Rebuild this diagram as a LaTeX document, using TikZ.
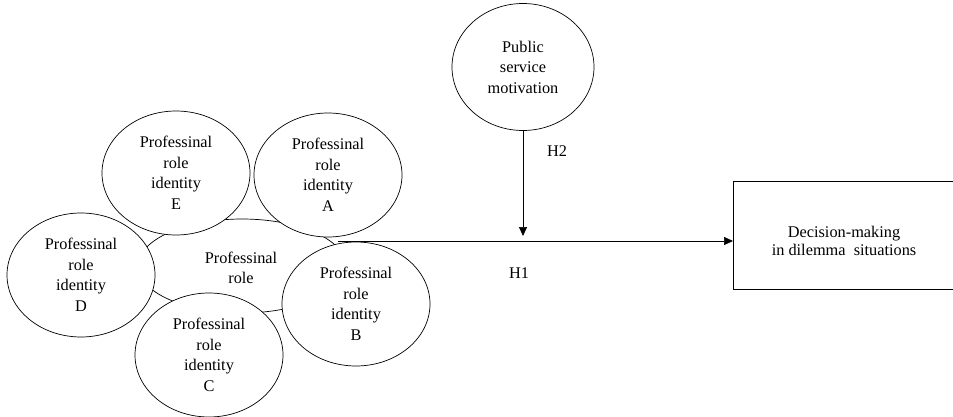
\documentclass[tikz,border=0pt]{standalone}
\usepackage{fontspec}
\setmainfont{Liberation Serif}
\usetikzlibrary{shapes.geometric,arrows.meta}
\begin{document}
\begin{tikzpicture}[x=1pt,y=-1pt,
  font=\fontsize{16.3}{20.5}\selectfont,
  ell/.style={ellipse,draw,fill=white,inner sep=0pt,align=center,line width=0.7pt,
    minimum width=148pt,minimum height=124pt},
  arr/.style={-{Triangle[length=9pt,width=8pt]},line width=0.7pt},
  lbl/.style={align=center,inner sep=0pt}]
\useasboundingbox (0,0) rectangle (953,417);
% central ellipse
\node[ellipse,draw,line width=0.7pt,minimum width=208pt,minimum height=94pt,inner sep=0pt] (core) at (242,266) {};
\node[lbl] (coretext) at (241,268) {Professinal\\role};
% identity ellipses
\node[ell] (E) at (176,173) {Professinal\\role\\identity\\E};
\node[ell] (A) at (328,175) {Professinal\\role\\identity\\A};
\node[ell] (D) at (81,275) {Professinal\\role\\identity\\D};
\node[ell] (C) at (209,355) {Professinal\\role\\identity\\C};
\node[ell] (B) at (356,304) {Professinal\\role\\identity\\B};
% public service motivation
\node[ell,minimum width=142pt,minimum height=127pt] (psm) at (523,67) {Public\\service\\motivation};
% outcome box
\node[draw,line width=0.7pt,minimum width=240pt,minimum height=108pt,inner sep=0pt,anchor=north west] (box) at (733,181) {};
\node[lbl,font=\fontsize{16.3}{18.5}\selectfont] (boxtext) at (844,241) {Decision-making\\in dilemma\ \ situations};
% arrows
\coordinate (s) at (338,241);
\draw[arr] (s) -- (s -| box.west);
\draw[arr,shorten >=5pt] (psm.south) -- (psm.south |- s);
\node[lbl] (H2) at (557,151) {H2};
\node[lbl] (H1) at (519,273) {H1};
\end{tikzpicture}
\end{document}
